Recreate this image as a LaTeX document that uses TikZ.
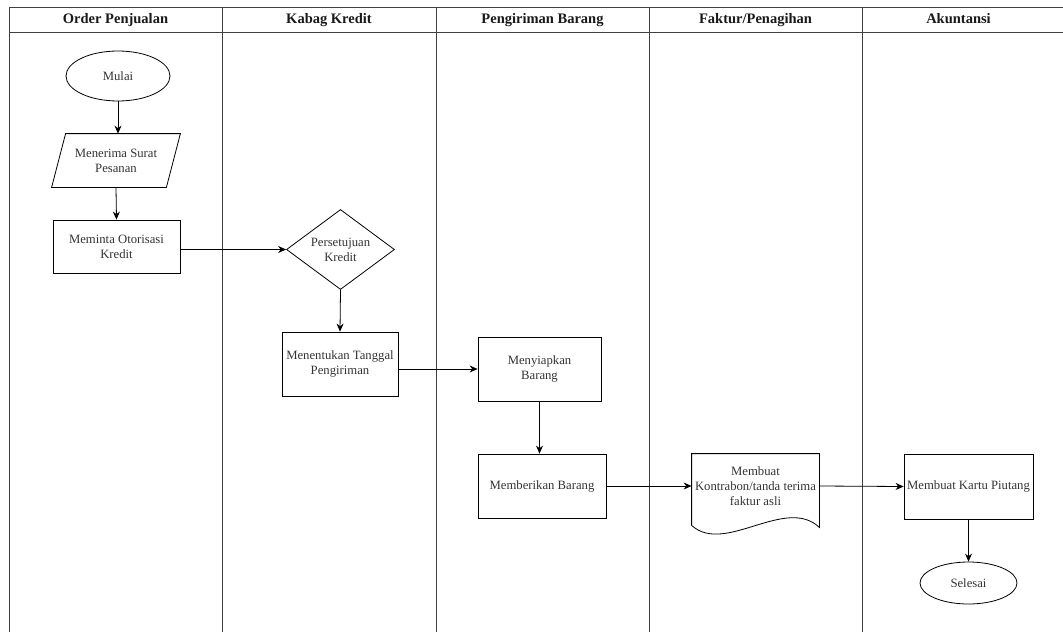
\documentclass[tikz,border=0pt]{standalone}
\usepackage{fontspec}
\setmainfont{Liberation Serif}
\usetikzlibrary{shapes.geometric,arrows.meta,calc}
\tikzset{
  lane/.style={draw=black!75, line width=0.9pt},
  hdr/.style={font=\fontsize{14.5}{17}\selectfont\bfseries, text=black!90, text height=10pt, text depth=3pt},
  box/.style={draw=black, line width=0.8pt, inner sep=1pt, align=center,
    font=\fontsize{12.7}{15}\selectfont, text=black!80},
  rectbox/.style={box, rectangle},
  oval/.style={box, ellipse},
  decis/.style={box, diamond, aspect=1.35},
  plain/.style={box, draw=none},
  arr/.style={draw=black, line width=0.8pt, -{Stealth[length=8pt,width=7pt]}}
}
\begin{document}
\begin{tikzpicture}[x=1pt,y=-1pt]
\useasboundingbox (0,0) rectangle (1063,632);
% swimlanes
\draw[lane] (9,7) -- (1063,7);
\draw[lane] (9,32) -- (1063,32);
\foreach \xx in {9,222,436,649,862}{\draw[lane] (\xx,7) -- (\xx,632);}
\node[hdr] (h1) at (115.5,19.5) {Order Penjualan};
\node[hdr] (h2) at (329,19.5) {Kabag Kredit};
\node[hdr] (h3) at (542.5,19.5) {Pengiriman Barang};
\node[hdr] (h4) at (755.5,19.5) {Faktur/Penagihan};
\node[hdr] (h5) at (958.5,19.5) {Akuntansi};
% shapes
\node[oval, minimum width=104pt, minimum height=50pt] (mulai) at (118,76) {Mulai};
\node[plain, minimum width=128pt, minimum height=53pt] (ps) at (116,160.5) {Menerima Surat\\Pesanan};
\draw[black, line width=0.8pt] ($(ps.north west)+(14,0)$) -- (ps.north east) -- ($(ps.south east)+(-14,0)$) -- (ps.south west) -- cycle;
\node[rectbox, minimum width=127pt, minimum height=53pt] (ot) at (116.5,246.5) {Meminta Otorisasi\\Kredit};
\node[decis, minimum width=108pt, minimum height=80pt, inner sep=0pt] (pk) at (340.5,249.5) {Persetujuan\\Kredit};
\node[rectbox, minimum width=116pt, minimum height=64pt] (mt) at (340,364) {Menentukan Tanggal\\Pengiriman};
\node[rectbox, minimum width=123pt, minimum height=64pt] (mb) at (539.5,369) {Menyiapkan\\Barang};
\node[rectbox, minimum width=128pt, minimum height=64pt] (mbb) at (542,486) {Memberikan Barang};
\node[plain, minimum width=127pt, minimum height=64pt, inner sep=0pt] (doc) at (755.5,486) {Membuat\\Kontrabon/tanda terima\\faktur asli};
\draw[black, line width=0.8pt] ($(doc.south west)+(0,7)$) -- (doc.north west) -- (doc.north east) -- ($(doc.south east)+(0,9)$)
  .. controls ($(doc.south east)+(-34,-23)$) and ($(doc.south west)+(33,37)$) .. ($(doc.south west)+(0,7)$);
\node[rectbox, minimum width=129pt, minimum height=65pt, inner sep=0pt] (kp) at (968.5,486.5) {Membuat Kartu Piutang};
\node[oval, minimum width=97pt, minimum height=42pt] (sel) at (968.5,583) {Selesai};
% connectors
\draw[arr] (mulai.south) -- (mulai.south |- ps.north);
\draw[arr] (ps.south) -- (ot.north);
\draw[arr] (ot.east |- pk.west) -- (pk.west);
\draw[arr] (pk.south) -- (mt.north);
\draw[arr] (mt.east |- mb.west) -- (mb.west);
\draw[arr] (mb.south) -- (mb.south |- mbb.north);
\draw[arr] (mbb.east) -- (doc.west);
\draw[arr] (doc.east) -- (kp.west);
\draw[arr] (kp.south) -- (sel.north);
\end{tikzpicture}
\end{document}
